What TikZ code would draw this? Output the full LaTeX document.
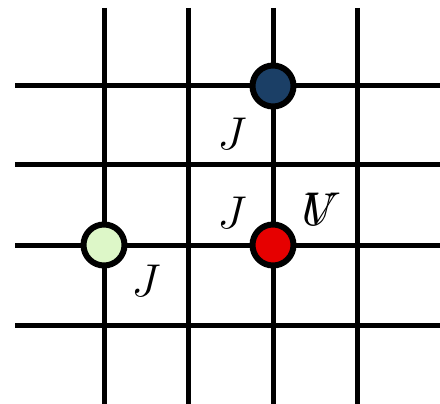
\documentclass[tikz,border=0pt]{standalone}
\usepackage{fix-cm}
\usetikzlibrary{positioning}
\definecolor{siteBlue}{HTML}{1B3F66}
\definecolor{siteRed}{HTML}{E60000}
\definecolor{siteGreen}{HTML}{DDF7C8}
\tikzset{
  bond/.style={line width=5pt, draw=black},
  site/.style={circle, draw=black, line width=6pt, minimum size=41pt, inner sep=0pt},
  lbl/.style={font=\fontsize{46}{50}\selectfont, inner sep=0pt},
}
\begin{document}
\begin{tikzpicture}[x=1pt, y=-1pt]
  \useasboundingbox (0,0) rectangle (440,404);
  % lattice
  \foreach \xx in {104,188,273,357} \draw[bond] (\xx,8) -- (\xx,404);
  \foreach \yy in {86,165,245,325} \draw[bond] (15,\yy) -- (440,\yy);
  % sites
  \node[site, fill=siteBlue] (top) at (273,86) {};
  \node[site, fill=siteRed] (mid) at (273,245) {};
  \node[site, fill=siteGreen] (left) at (104,245) {};
  % couplings
  \node[lbl] (j1) at (232,134) {$J$};
  \node[lbl] (j2) at (232,213) {$J$};
  \node[lbl] (j3) at (146,281) {$J$};
  \node[lbl] (u) at (319,210) {$U$};
  \node[lbl] (v) at (323,209) {$V$};
\end{tikzpicture}
\end{document}
